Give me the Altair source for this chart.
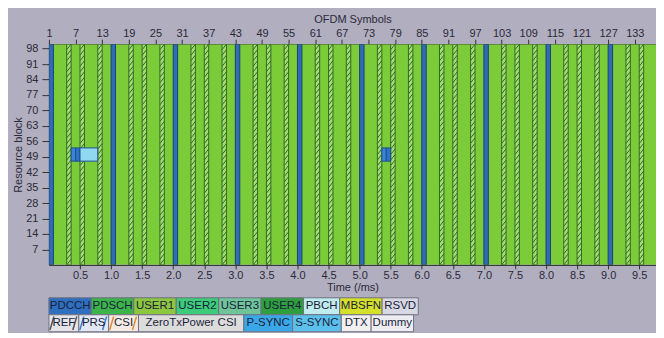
import altair as alt
import numpy as np
import pandas as pd

# ---------------- data ----------------
N_SUBFRAMES = 10
SYMBOLS_PER_SUBFRAME = 14
N_RB = 100
TIME_VIEW_MAX = 9.77            # visible part of the time axis (ms)
PDCCH_SYMBOLS = [0]
REF_SYMBOLS = [4, 7, 11]
SYNC_SUBFRAMES = [0, 5]
SSS_SYMBOL = 5
PSS_SYMBOL = 6
PBCH_SUBFRAME = 0
PBCH_SYMBOLS = [7, 8, 9, 10]
CENTER_RB = [47, 53]
HATCH_STEP_RB = 2.5

SYMBOL_TICKS = list(range(1, 140, 6))
TIME_TICKS = [0.5, 1.0, 1.5, 2.0, 2.5, 3.0, 3.5, 4.0, 4.5, 5.0,
              5.5, 6.0, 6.5, 7.0, 7.5, 8.0, 8.5, 9.0, 9.5]
RB_TICKS = [7, 14, 21, 28, 35, 42, 49, 56, 63, 70, 77, 84, 91, 98]

LEGEND_ROW1 = ["PDCCH", "PDSCH", "USER1", "USER2", "USER3", "USER4", "PBCH", "MBSFN", "RSVD"]
LEGEND_ROW1_COLORS = ["#2f6fbf", "#3cb44a", "#8dc63f", "#3dcc7a", "#70c49a",
                      "#2e9e3e", "#c0ecf0", "#d4e02a", "#d8d8e4"]
LEGEND_ROW2 = ["REF", "PRS", "CSI", "ZeroTxPower CSI", "P-SYNC", "S-SYNC", "DTX", "Dummy"]
LEGEND_ROW2_COLORS = ["#e4e4e8", "#e4e8f4", "#f4ece4", "#dcdcdc", "#3aa8e8",
                      "#5cc0ec", "#f0f0f0", "#ececf2"]
LEGEND_ROW2_HATCH = ["#555555", "#3a7fd0", "#e08a3a", None, None, None, None, None]

# ---------------- styles ----------------
BG = "#b1aec0"
PDSCH_GREEN = "#7ccc3a"
REF_FILL = "#a6da72"
REF_STROKE = "#2e6b24"
PDCCH_FILL = "#2f6db5"
PDCCH_STROKE = "#1d3f70"
SSS_FILL = "#3b86d4"
PSS_FILL = "#2f74c8"
PBCH_FILL = "#8fd8f0"
TEXT = "#2a2a38"
FONT = "Liberation Sans"

SYM = 1.0 / SYMBOLS_PER_SUBFRAME

# ---------------- tables ----------------
bg_df = pd.DataFrame({"t0": [0.0], "t1": [float(N_SUBFRAMES)],
                      "rb0": [0.0], "rb1": [float(N_RB)]})


def columns(symbols, subframes):
    return pd.DataFrame([{"t0": sf + s * SYM, "t1": sf + (s + 1) * SYM,
                          "rb0": 0.0, "rb1": float(N_RB)}
                         for sf in subframes for s in symbols])


pdcch_df = columns(PDCCH_SYMBOLS, range(N_SUBFRAMES))
ref_df = columns(REF_SYMBOLS, range(N_SUBFRAMES))

hatch_rows = []
for r in ref_df.itertuples():
    for rb in np.arange(0, N_RB, HATCH_STEP_RB):
        hatch_rows.append({"t0": r.t0, "t1": r.t1, "rb0": rb, "rb1": rb + HATCH_STEP_RB})
hatch_df = pd.DataFrame(hatch_rows)

box_rows = []
for sf in SYNC_SUBFRAMES:
    box_rows.append({"t0": sf + SSS_SYMBOL * SYM, "t1": sf + (SSS_SYMBOL + 1) * SYM,
                     "rb0": CENTER_RB[0], "rb1": CENTER_RB[1], "kind": "S-SYNC"})
    box_rows.append({"t0": sf + PSS_SYMBOL * SYM, "t1": sf + (PSS_SYMBOL + 1) * SYM,
                     "rb0": CENTER_RB[0], "rb1": CENTER_RB[1], "kind": "P-SYNC"})
box_rows.append({"t0": PBCH_SUBFRAME + PBCH_SYMBOLS[0] * SYM,
                 "t1": PBCH_SUBFRAME + (PBCH_SYMBOLS[-1] + 1) * SYM,
                 "rb0": CENTER_RB[0], "rb1": CENTER_RB[1], "kind": "PBCH"})
box_df = pd.DataFrame(box_rows)

# ---------------- main grid ----------------
W, H = 608, 221
x_scale = alt.Scale(domain=[0, TIME_VIEW_MAX], nice=False, zero=False)
y_scale = alt.Scale(domain=[0, N_RB], nice=False, zero=False)

axis_common = dict(labelFont=FONT, titleFont=FONT, labelColor=TEXT, titleColor=TEXT,
                   labelFontSize=11, titleFontSize=11, titleFontWeight="normal",
                   domainColor="#222222", tickColor="#333333", grid=False,
                   labelFlush=False, labelOverlap=False)

sym_tick_times = [(k - 1) * SYM for k in SYMBOL_TICKS if (k - 1) * SYM <= TIME_VIEW_MAX]

bottom_axis = alt.Axis(orient="bottom", values=TIME_TICKS, format=".1f", title="Time (/ms)",
                       tickSize=4, labelPadding=1, titlePadding=1, **axis_common)
top_axis = alt.Axis(orient="top", values=sym_tick_times,
                    labelExpr=f"format(round(datum.value*{SYMBOLS_PER_SUBFRAME})+1,'d')",
                    title="OFDM Symbols", tickSize=5, labelPadding=1, titlePadding=3,
                    **axis_common)
y_axis = alt.Axis(values=RB_TICKS, title="Resource block", tickSize=7, labelPadding=4,
                  titlePadding=2, **axis_common)


def enc(xaxis):
    return dict(x=alt.X("t0:Q", scale=x_scale, axis=xaxis), x2="t1",
                y=alt.Y("rb0:Q", scale=y_scale, axis=y_axis), y2="rb1")


bg = alt.Chart(bg_df).mark_rect(fill=PDSCH_GREEN, clip=True).encode(**enc(bottom_axis))
ref = alt.Chart(ref_df).mark_rect(fill=REF_FILL, stroke=REF_STROKE, strokeWidth=1,
                                  clip=True).encode(**enc(None))
hatch = alt.Chart(hatch_df).mark_rule(stroke=REF_STROKE, strokeWidth=1, clip=True).encode(**enc(None))
pdcch = alt.Chart(pdcch_df).mark_rect(fill=PDCCH_FILL, stroke=PDCCH_STROKE, strokeWidth=1,
                                      clip=True).encode(**enc(top_axis))
boxes = alt.Chart(box_df).mark_rect(stroke="#1d4f90", strokeWidth=1, clip=True).encode(
    color=alt.Color("kind:N", scale=alt.Scale(domain=["S-SYNC", "P-SYNC", "PBCH"],
                                              range=[SSS_FILL, PSS_FILL, PBCH_FILL]),
                    legend=None),
    **enc(None))

main = alt.layer(bg, ref, hatch, pdcch, boxes).resolve_axis(x="independent").properties(
    width=W, height=H)

# ---------------- legend ----------------
CHAR_W, BOX_PAD = 6.3, 11
leg_rows, leg_hatch = [], []


def add_row(labels, colors, row, hatches=None):
    x = 0.0
    for i, (lab, col) in enumerate(zip(labels, colors)):
        w = CHAR_W * len(lab) + BOX_PAD
        leg_rows.append({"label": lab, "color": col, "x0": x, "x1": x + w,
                         "y0": row, "y1": row + 1, "xm": x + w / 2, "ym": row + 0.5})
        if hatches and hatches[i]:
            for a in (x + 1, x + w - 6):
                leg_hatch.append({"x0": a, "x1": a + 4, "y0": row + 0.1, "y1": row + 0.9,
                                  "hc": hatches[i]})
        x += w


add_row(LEGEND_ROW1, LEGEND_ROW1_COLORS, 1)
add_row(LEGEND_ROW2, LEGEND_ROW2_COLORS, 0, LEGEND_ROW2_HATCH)
leg_df = pd.DataFrame(leg_rows)
legh_df = pd.DataFrame(leg_hatch)

LW, LH = 370, 34
lx = alt.Scale(domain=[0, LW], nice=False, zero=False)
ly = alt.Scale(domain=[0, 2], nice=False, zero=False)

leg_box = alt.Chart(leg_df).mark_rect(stroke="#707080", strokeWidth=1).encode(
    x=alt.X("x0:Q", scale=lx, axis=None), x2="x1",
    y=alt.Y("y0:Q", scale=ly, axis=None), y2="y1",
    color=alt.Color("color:N", scale=None))
leg_hatch_m = alt.Chart(legh_df).mark_rule(strokeWidth=1.5).encode(
    x=alt.X("x0:Q", scale=lx, axis=None), x2="x1",
    y=alt.Y("y0:Q", scale=ly, axis=None), y2="y1",
    color=alt.Color("hc:N", scale=None))
leg_text = alt.Chart(leg_df).mark_text(font=FONT, fontSize=11.5, color="#1a1f3a").encode(
    x=alt.X("xm:Q", scale=lx, axis=None), y=alt.Y("ym:Q", scale=ly, axis=None),
    text="label:N")

legend = alt.layer(leg_box, leg_hatch_m, leg_text).properties(width=LW, height=LH)

chart = alt.vconcat(main, legend, spacing=4).configure(
    background=BG, padding={"left": 4, "top": 5, "right": 0, "bottom": 0}
).configure_view(stroke=None)

chart.save("out.html", embed_options={"renderer": "svg", "actions": False})
